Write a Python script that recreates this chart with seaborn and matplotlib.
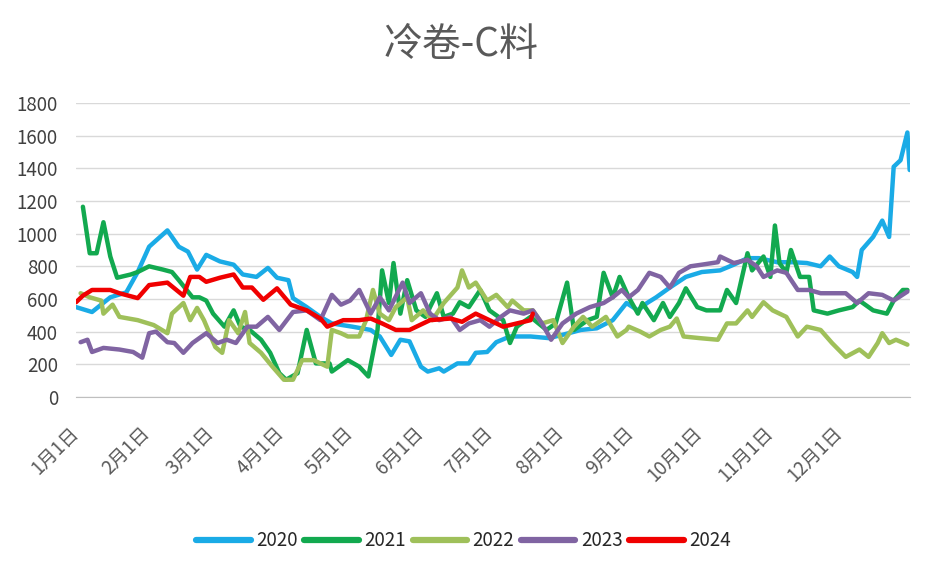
import pandas as pd
import matplotlib
matplotlib.use("Agg")
import matplotlib.pyplot as plt
import seaborn as sns

# day-of-year offsets (0 = 1月1日) and prices
days_2020 = [0, 7, 15, 22, 27, 32, 40, 45, 49, 53, 57, 63, 69, 73, 79, 84, 88, 93, 95, 101,
             107, 112, 121, 129, 133, 138, 142, 146, 151, 154, 159, 161, 167, 172, 175, 180,
             184, 190, 199, 207, 213, 221, 228, 235, 241, 246, 250, 254, 260, 267, 274, 282,
             288, 294, 299, 307, 314, 320, 326, 330, 334, 340, 342, 344, 349, 353, 356, 358,
             361, 364, 365]
vals_2020 = [550, 520, 610, 640, 765, 920, 1020, 920, 890, 780, 870, 830, 810, 750, 735, 790,
             730, 715, 605, 550, 490, 450, 430, 410, 370, 257, 350, 340, 185, 155, 175, 155,
             205, 205, 270, 275, 335, 370, 370, 360, 380, 410, 420, 470, 575, 530, 575, 610,
             670, 735, 765, 775, 810, 850, 850, 825, 825, 820, 800, 860, 800, 765, 735, 900,
             980, 1080, 980, 1410, 1450, 1620, 1390]

days_2021 = [3, 6, 9, 12, 15, 18, 24, 27, 32, 38, 42, 45, 51, 54, 57, 60, 65, 69, 72, 76,
             81, 85, 89, 92, 97, 101, 105, 111, 112, 119, 124, 128, 132, 134, 137, 139, 142,
             145, 149, 153, 155, 158, 161, 165, 168, 172, 177, 181, 187, 190, 193, 199, 206,
             210, 215, 218, 224, 228, 231, 235, 238, 242, 246, 248, 253, 257, 260, 264, 267,
             272, 276, 282, 285, 289, 294, 296, 301, 304, 306, 308, 311, 313, 317, 321, 323,
             329, 334, 340, 343, 349, 355, 358, 362, 364]
vals_2021 = [1165, 880, 880, 1070, 860, 730, 750, 765, 800, 780, 765, 715, 610, 610, 590, 510,
             430, 530, 430, 410, 350, 270, 145, 105, 145, 410, 205, 205, 155, 225, 185, 125,
             410, 775, 575, 820, 510, 715, 530, 490, 550, 635, 490, 510, 580, 550, 655, 530,
             470, 330, 430, 490, 410, 450, 700, 410, 470, 490, 760, 610, 735, 610, 510, 575,
             470, 575, 490, 575, 665, 550, 530, 530, 655, 575, 880, 775, 860, 735, 1050, 820,
             760, 900, 735, 735, 530, 510, 530, 550, 590, 530, 510, 590, 655, 655]

days_2022 = [2, 6, 11, 12, 16, 19, 27, 34, 40, 42, 47, 50, 53, 56, 61, 64, 67, 71, 74, 76,
             81, 86, 91, 95, 99, 104, 110, 112, 116, 119, 124, 127, 130, 133, 137, 140, 145,
             147, 152, 156, 161, 167, 169, 172, 175, 180, 184, 189, 191, 196, 200, 204, 209,
             213, 218, 222, 226, 232, 237, 241, 242, 247, 251, 256, 260, 263, 266, 273, 281,
             285, 289, 294, 296, 301, 305, 311, 316, 320, 326, 331, 337, 343, 347, 351, 353,
             356, 359, 364]
vals_2022 = [635, 610, 590, 510, 565, 490, 470, 440, 390, 510, 575, 470, 545, 470, 305, 270,
             470, 390, 520, 330, 270, 185, 105, 105, 225, 225, 185, 410, 390, 370, 370, 470,
             655, 510, 470, 550, 610, 470, 530, 470, 575, 670, 775, 670, 700, 590, 625, 550,
             590, 530, 530, 450, 470, 330, 430, 490, 430, 490, 370, 410, 430, 400, 370, 410,
             430, 480, 370, 360, 350, 450, 450, 530, 490, 580, 530, 490, 370, 430, 410, 330,
             245, 290, 245, 330, 390, 330, 350, 320]

days_2023 = [2, 5, 7, 12, 19, 25, 29, 32, 35, 40, 43, 47, 51, 57, 62, 66, 70, 75, 79, 84,
             89, 95, 101, 107, 112, 116, 120, 124, 129, 133, 137, 143, 146, 151, 155, 159,
             164, 168, 172, 177, 181, 186, 190, 196, 200, 204, 208, 213, 219, 225, 231, 235,
             239, 242, 246, 251, 256, 260, 264, 269, 274, 281, 282, 288, 294, 298, 301, 307,
             311, 316, 321, 326, 331, 337, 342, 347, 353, 358, 364]
vals_2023 = [335, 350, 275, 300, 290, 275, 240, 390, 400, 335, 330, 270, 330, 390, 330, 350,
             330, 430, 430, 490, 410, 520, 530, 470, 625, 565, 590, 655, 510, 610, 530, 700,
             575, 635, 510, 470, 490, 410, 450, 470, 430, 490, 530, 510, 530, 450, 350, 450,
             510, 550, 575, 610, 655, 610, 655, 760, 735, 670, 760, 800, 810, 825, 860, 820,
             840, 800, 735, 775, 760, 655, 655, 635, 635, 635, 575, 635, 625, 590, 645]

days_2024 = [0, 3, 7, 15, 19, 27, 32, 40, 47, 50, 54, 57, 63, 69, 73, 77, 82, 88, 94, 101,
             107, 110, 117, 124, 129, 134, 140, 146, 155, 164, 169, 175, 181, 187, 193, 199, 200]
vals_2024 = [580, 620, 655, 655, 635, 605, 685, 700, 620, 735, 735, 705, 730, 750, 670, 670,
             595, 665, 565, 530, 480, 430, 470, 470, 480, 450, 410, 410, 470, 480, 460, 510,
             470, 430, 450, 470, 510]

years = ["2020", "2021", "2022", "2023", "2024"]
colors = ["#1AABE6", "#12A94F", "#9FC05A", "#8064A2", "#F00000"]

month_starts = [0, 31, 59, 90, 120, 151, 181, 212, 243, 273, 304, 334, 365]
month_labels = [f"{m}月1日" for m in range(1, 13)] + [""]

series = {
    "2020": (days_2020, vals_2020),
    "2021": (days_2021, vals_2021),
    "2022": (days_2022, vals_2022),
    "2023": (days_2023, vals_2023),
    "2024": (days_2024, vals_2024),
}
frames = [pd.DataFrame({"day": d, "price": v, "year": y}) for y, (d, v) in series.items()]
df = pd.concat(frames, ignore_index=True)

sns.set_style("white")
plt.rcParams["font.family"] = ["Noto Sans CJK SC", "DejaVu Sans"]

fig = plt.figure(figsize=(9.33, 5.76), dpi=100)
ax = fig.add_axes([0.0815, 0.311, 0.8935, 0.510])

sns.lineplot(data=df, x="day", y="price", hue="year", palette=dict(zip(years, colors)),
             linewidth=3.2, estimator=None, sort=False, ax=ax)

ax.set_xlim(0, 365)
ax.set_ylim(0, 1800)
ax.set_yticks(range(0, 1801, 200))
ax.set_xticks(month_starts)
ax.set_xticklabels(month_labels, rotation=45, ha="right", va="center",
                   rotation_mode="anchor", fontsize=13.5, color="#595959")
ax.tick_params(axis="y", labelsize=13.5, labelcolor="#404040", length=0, pad=13)
ax.tick_params(axis="x", length=7, width=1, color="#BFBFBF", direction="out", pad=17)
ax.grid(axis="y", color="#D9D9D9", linewidth=1)
ax.set_axisbelow(True)
for s in ["top", "right", "left"]:
    ax.spines[s].set_visible(False)
ax.spines["bottom"].set_color("#BFBFBF")
ax.set_xlabel("")
ax.set_ylabel("")

fig.text(0.494, 0.922, "冷卷-C料", fontsize=28, color="#595959", ha="center", va="center")

handles, labels = ax.get_legend_handles_labels()
ax.legend(handles, labels, loc="center", bbox_to_anchor=(0.465, -0.49), ncol=5,
          frameon=False, fontsize=13.5, handlelength=2.9, handletextpad=0.3,
          columnspacing=0.35)
for line in ax.get_legend().get_lines():
    line.set_linewidth(4.5)

fig.savefig("out.png", dpi=100)
